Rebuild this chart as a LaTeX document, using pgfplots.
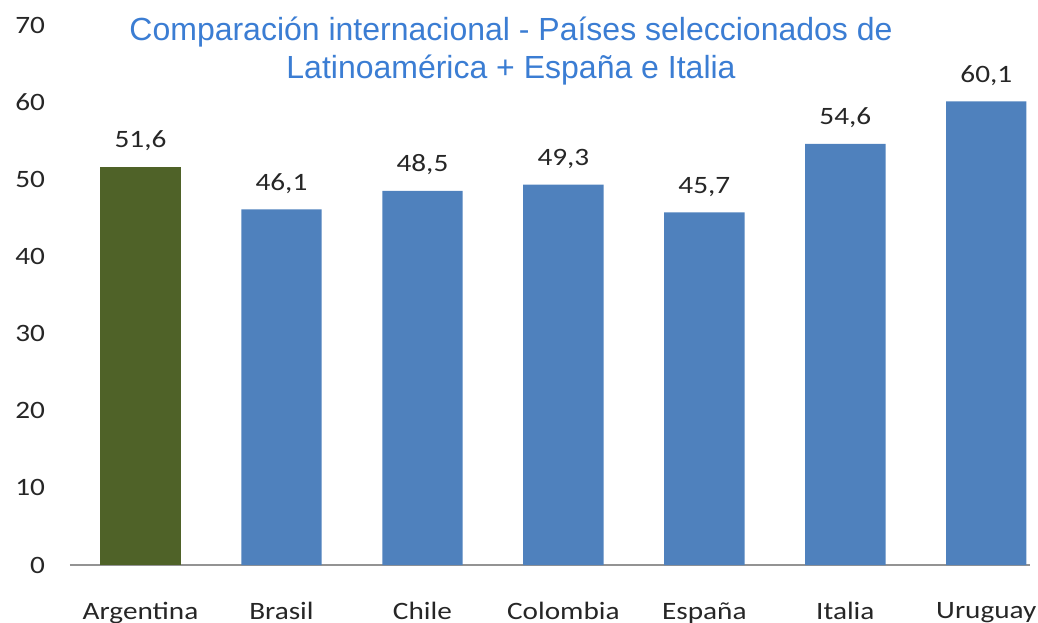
\documentclass[border=0pt]{standalone}
\usepackage{fontspec}
\setmainfont{Carlito}[FakeStretch=1.17]
\newfontfamily\arialf{Liberation Sans}
\usepackage{pgfplots}
\pgfplotsset{compat=1.18}
\definecolor{barblue}{HTML}{4F81BD}
\definecolor{barolive}{HTML}{4F6228}
\definecolor{titleblue}{HTML}{3B7DD3}
\definecolor{labgray}{HTML}{262626}

\begin{document}
\begin{tikzpicture}
\useasboundingbox (0,0) rectangle (519pt,311pt);
\begin{axis}[
  at={(35pt,28.5pt)}, anchor=south west,
  width=480pt, height=270pt, scale only axis,
  xmin=-0.5, xmax=6.31, ymin=0, ymax=70,
  ytick={0,10,...,70},
  xtick={0,...,6},
  xticklabels={Argentina,Brasil,Chile,Colombia,España,Italia,Uruguay},
  axis lines*=left,
  x axis line style={gray!85, line width=0.8pt, -},
  y axis line style={draw=none},
  xtick style={draw=none}, ytick style={draw=none},
  tick label style={font=\fontsize{12.5}{15}\selectfont, text=labgray},
  /pgf/number format/assume math mode=true,
  yticklabel style={xshift=-9pt},
  xticklabel style={yshift=-11pt},
  ybar, bar width=0.57, bar shift=0pt,
  nodes near coords={\pgfmathprintnumber[use comma,fixed,fixed zerofill,precision=1,assume math mode=true]{\pgfplotspointmeta}},
  nodes near coords style={font=\fontsize{12.5}{15}\selectfont, text=labgray, yshift=4.5pt},
  clip=false,
]
\addplot[fill=barolive, draw=none] coordinates {(0,51.6)};
\addplot[fill=barblue, draw=none] coordinates {(1,46.1) (2,48.5) (3,49.3) (4,45.7) (5,54.6) (6,60.1)};
\end{axis}
\node[font=\arialf\fontsize{16}{19}\selectfont, text=titleblue, align=center, anchor=north]
  at (255.5pt,306pt) {Comparación internacional - Países seleccionados de\\Latinoamérica + España e Italia};
\end{tikzpicture}
\end{document}
